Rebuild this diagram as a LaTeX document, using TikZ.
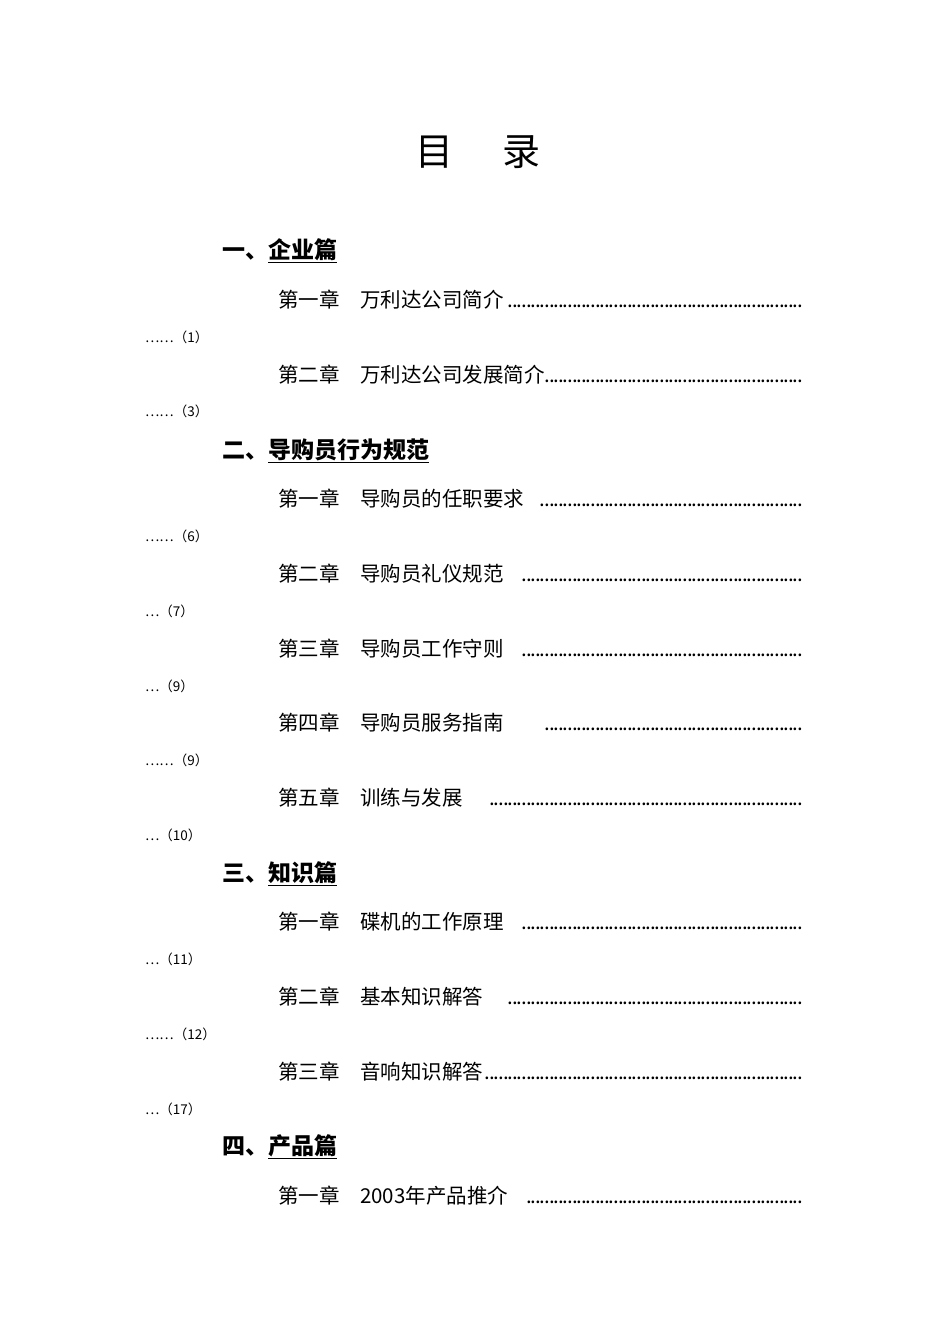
\documentclass[tikz,border=0pt]{standalone}
\usepackage{fontspec}
\setmainfont{Noto Sans CJK SC}
\begin{document}
\begin{tikzpicture}[x=1pt,y=-1pt,
  title/.style={font=\fontsize{38}{40}\selectfont, inner sep=0},
  head/.style={anchor=west, font=\fontsize{23}{25}\selectfont\bfseries, inner sep=0},
  chap/.style={anchor=west, font=\fontsize{20.5}{22}\selectfont, inner sep=0, text width=527pt},
  pg/.style={anchor=west, font=\fontsize{13.5}{15}\selectfont, inner sep=0}]
\useasboundingbox (0,0) rectangle (950,1344);
\newcommand{\dts}{\leaders\hbox to 4.6pt{\hss.\hss}\hfill\mbox{}}
\node[title] (t) at (478,152) {目\hspace{1.3em}录};
\node[head] (h1) at (222,251) {一、\underline{企业篇}};
\node[chap] (c1) at (278,300) {第一章\hspace{1em}万利达公司简介\dts};
\node[pg] (p1) at (145,337) {……（1）};
\node[chap] (c2) at (278,375) {第二章\hspace{1em}万利达公司发展简介\dts};
\node[pg] (p2) at (145,411) {……（3）};
\node[head] (h2) at (222,451) {二、\underline{导购员行为规范}};
\node[chap] (c3) at (278,499) {第一章\hspace{1em}导购员的任职要求\hspace{0.7em}\dts};
\node[pg] (p3) at (145,536) {……（6）};
\node[chap] (c4) at (278,574) {第二章\hspace{1em}导购员礼仪规范\hspace{0.7em}\dts};
\node[pg] (p4) at (145,611) {…（7）};
\node[chap] (c5) at (278,649) {第三章\hspace{1em}导购员工作守则\hspace{0.7em}\dts};
\node[pg] (p5) at (145,686) {…（9）};
\node[chap] (c6) at (278,723) {第四章\hspace{1em}导购员服务指南\hspace{2em}\dts};
\node[pg] (p6) at (145,760) {……（9）};
\node[chap] (c7) at (278,798) {第五章\hspace{1em}训练与发展\hspace{1.2em}\dts};
\node[pg] (p7) at (145,835) {…（10）};
\node[head] (h3) at (222,874) {三、\underline{知识篇}};
\node[chap] (c8) at (278,922) {第一章\hspace{1em}碟机的工作原理\hspace{0.7em}\dts};
\node[pg] (p8) at (145,959) {…（11）};
\node[chap] (c9) at (278,997) {第二章\hspace{1em}基本知识解答\hspace{1.2em}\dts};
\node[pg] (p9) at (145,1034) {……（12）};
\node[chap] (c10) at (278,1072) {第三章\hspace{1em}音响知识解答\dts};
\node[pg] (p10) at (145,1109) {…（17）};
\node[head] (h4) at (222,1147) {四、\underline{产品篇}};
\node[chap] (c11) at (278,1196) {第一章\hspace{1em}2003年产品推介\hspace{0.7em}\dts};
\end{tikzpicture}
\end{document}
